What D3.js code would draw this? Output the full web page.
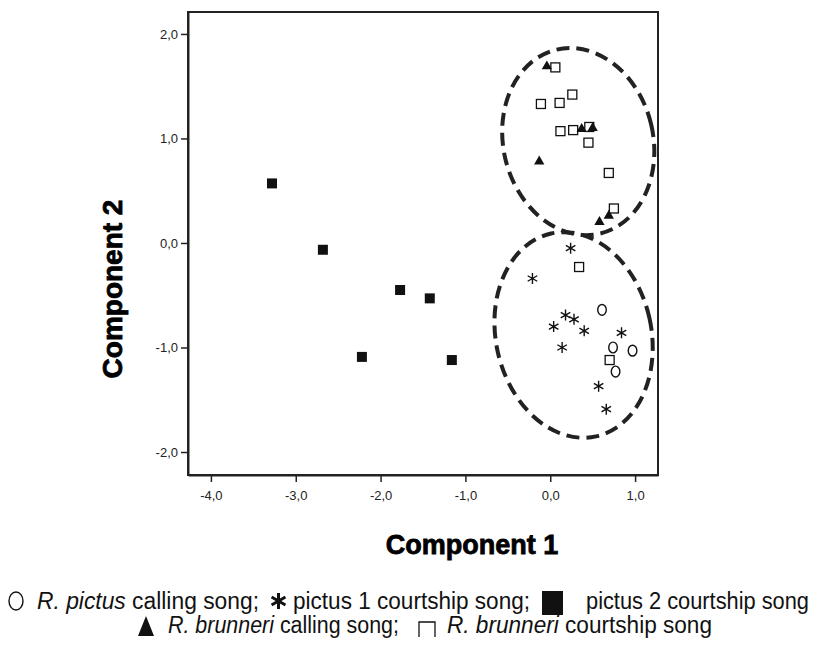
<!DOCTYPE html>
<html>
<head>
<meta charset="utf-8">
<script src="https://cdn.jsdelivr.net/npm/d3@7"></script>
<style>
body{margin:0;background:#fff}
</style>
</head>
<body>
<div id="chart"></div>
<script>
// component scores
const pictusCalling=[[0.61,-0.64],[0.74,-1.00],[0.97,-1.03],[0.77,-1.23]]
const pictus1Courtship=[[0.24,-0.05],[-0.21,-0.34],[0.18,-0.69],[0.28,-0.73],[0.04,-0.80],
  [0.40,-0.84],[0.84,-0.86],[0.14,-1.00],[0.57,-1.37],[0.66,-1.59]]
const pictus2Courtship=[[-3.28,0.57],[-2.68,-0.065],[-1.77,-0.45],[-1.42,-0.53],[-2.22,-1.09],[-1.16,-1.12]]
const brunneriCalling=[[-0.04,1.69],[0.37,1.09],[0.50,1.10],[-0.13,0.78],[0.69,0.26],[0.58,0.20]]
const brunneriCourtship=[[0.06,1.68],[-0.11,1.33],[0.11,1.34],[0.26,1.42],[0.12,1.07],[0.27,1.08],
  [0.46,1.11],[0.45,0.96],[0.69,0.67],[0.75,0.33],[0.34,-0.23],[0.70,-1.12]]

// dashed group ellipses: centre, half widths (data units), tilt in degrees
const groupEllipses=[
  {cx:0.33,cy:0.97,rx:0.883,ry:0.904,tilt:-13.4},
  {cx:0.275,cy:-0.88,rx:0.916,ry:0.994,tilt:-12.5}
]

const xTicks=[-4,-3,-2,-1,0,1]
const yTicks=[-2,-1,0,1,2]

const width=824
const height=654

const svg=d3.select("#chart")
.append("svg")
.attr("width",width)
.attr("height",height)

const x=d3.scaleLinear()
.domain([-4.27,1.27])
.range([188,658])

const y=d3.scaleLinear()
.domain([-2.22,2.21])
.range([475,12])

const fmt=v=>(Math.abs(v)<1e-9?0:v).toFixed(1).replace(".",",")

// frame
svg.append("rect")
  .attr("x",x.range()[0])
  .attr("y",y.range()[1])
  .attr("width",x.range()[1]-x.range()[0])
  .attr("height",y.range()[0]-y.range()[1])
  .attr("fill","none")
  .attr("stroke","#222")
  .attr("stroke-width",2)

// X axis
svg.append("g")
  .attr("transform",`translate(0,${y.range()[0]})`)
  .call(d3.axisBottom(x).tickValues(xTicks).tickFormat(fmt).tickSize(7).tickSizeOuter(0).tickPadding(9))

// Y axis
svg.append("g")
  .attr("transform",`translate(${x.range()[0]},0)`)
  .call(d3.axisLeft(y).tickValues(yTicks).tickFormat(fmt).tickSize(7).tickSizeOuter(0).tickPadding(3))

svg.selectAll(".domain").attr("stroke","#222").attr("stroke-width",2)
svg.selectAll(".tick line").attr("stroke","#222").attr("stroke-width",1.5)
svg.selectAll(".tick text")
  .attr("fill","#222")
  .style("font-family","'Liberation Sans',Arial,sans-serif")
  .style("font-size","13px")

// ellipses
svg.selectAll("ellipse.group")
.data(groupEllipses)
.join("ellipse")
.attr("class","group")
.attr("cx",0).attr("cy",0)
.attr("rx",d=>x(d.cx+d.rx)-x(d.cx))
.attr("ry",d=>y(d.cy)-y(d.cy+d.ry))
.attr("transform",d=>`translate(${x(d.cx)},${y(d.cy)}) rotate(${d.tilt})`)
.attr("fill","none")
.attr("stroke","#222")
.attr("stroke-width",4)
.attr("stroke-dasharray","13 7")

// marker shapes
const starPath=(r)=>{
  let p=""
  for(let i=0;i<3;i++){
    const a=Math.PI/2+i*Math.PI/3
    p+=`M${(r*Math.cos(a)).toFixed(2)},${(-r*Math.sin(a)).toFixed(2)}L${(-r*Math.cos(a)).toFixed(2)},${(r*Math.sin(a)).toFixed(2)}`
  }
  return p
}

// open squares
svg.append("g").selectAll("rect")
.data(brunneriCourtship)
.join("rect")
.attr("x",d=>x(d[0])-4.5)
.attr("y",d=>y(d[1])-4.5)
.attr("width",9).attr("height",9)
.attr("fill","#fff")
.attr("stroke","#111")
.attr("stroke-width",1.3)

// filled squares
svg.append("g").selectAll("rect")
.data(pictus2Courtship)
.join("rect")
.attr("x",d=>x(d[0])-5)
.attr("y",d=>y(d[1])-5)
.attr("width",10).attr("height",10)
.attr("fill","#111")

// triangles
svg.append("g").selectAll("path")
.data(brunneriCalling)
.join("path")
.attr("transform",d=>`translate(${x(d[0])},${y(d[1])})`)
.attr("d",d3.symbol(d3.symbolTriangle,46))
.attr("fill","#111")

// circles
svg.append("g").selectAll("ellipse")
.data(pictusCalling)
.join("ellipse")
.attr("cx",d=>x(d[0]))
.attr("cy",d=>y(d[1]))
.attr("rx",4.3).attr("ry",5.4)
.attr("fill","none")
.attr("stroke","#111")
.attr("stroke-width",1.4)

// asterisks
svg.append("g").selectAll("path")
.data(pictus1Courtship)
.join("path")
.attr("transform",d=>`translate(${x(d[0])},${y(d[1])})`)
.attr("d",starPath(5.5))
.attr("stroke","#111")
.attr("stroke-width",1.4)

// axis titles
svg.append("text")
  .attr("x",472)
  .attr("y",554)
  .attr("text-anchor","middle")
  .attr("stroke","#000")
  .attr("stroke-width",0.8)
  .style("font-family","'Liberation Sans',Arial,sans-serif")
  .style("font-weight","bold")
  .style("font-size","27px")
  .text("Component 1")

svg.append("text")
  .attr("transform","rotate(-90)")
  .attr("x",-289)
  .attr("y",122)
  .attr("text-anchor","middle")
  .attr("stroke","#000")
  .attr("stroke-width",0.8)
  .style("font-family","'Liberation Sans',Arial,sans-serif")
  .style("font-weight","bold")
  .style("font-size","28px")
  .text("Component 2")

// legend
const legendRows=[
  {x0:7,y:609,items:[
    {sym:"circle",pre:0,post:12,w:222,parts:[["R. pictus",true],[" calling song;",false]]},
    {sym:"star",pre:10,post:5,w:237,parts:[["pictus 1 courtship song;",false]]},
    {sym:"square",pre:12,post:23,w:223,parts:[["pictus 2 courtship song",false]]}
  ]},
  {x0:138,y:633,items:[
    {sym:"triangle",pre:0,post:14,w:231,parts:[["R. brunneri",true],[" calling song;",false]]},
    {sym:"openSquare",pre:19,post:11,w:265,parts:[["R. brunneri",true],[" courtship song",false]]}
  ]}
]
const symW={circle:18,star:19,square:21,triangle:16,openSquare:18}
const legend=svg.append("g")
  .style("font-family","'Liberation Sans',Arial,sans-serif")
  .style("font-size","23px")
  .attr("fill","#111")

legendRows.forEach(row=>{
  let cx=row.x0
  const yy=row.y
  row.items.forEach(it=>{
    cx+=it.pre
    const w=symW[it.sym]
    const g=legend.append("g").attr("transform",`translate(${cx+w/2},${yy-8})`)
    if(it.sym==="circle") g.append("ellipse").attr("rx",7).attr("ry",9).attr("fill","none").attr("stroke","#111").attr("stroke-width",1.4)
    if(it.sym==="star") g.append("path").attr("d",starPath(8)).attr("stroke","#111").attr("stroke-width",3)
    if(it.sym==="square") g.append("rect").attr("x",-10.5).attr("y",-10).attr("width",21).attr("height",24).attr("fill","#111")
    if(it.sym==="triangle") g.append("path").attr("d","M0,-9L8,11L-8,11Z").attr("fill","#111")
    if(it.sym==="openSquare") g.append("path").attr("d","M-8,12V-3H8V12").attr("fill","none").attr("stroke","#111").attr("stroke-width",1.3)
    cx+=w+it.post
    const t=legend.append("text").attr("x",cx).attr("y",yy)
      .attr("textLength",it.w).attr("lengthAdjust","spacingAndGlyphs")
    it.parts.forEach(p=>{
      t.append("tspan").style("font-style",p[1]?"italic":"normal").text(p[0])
    })
    cx+=it.w
  })
})
</script>
</body>
</html>
